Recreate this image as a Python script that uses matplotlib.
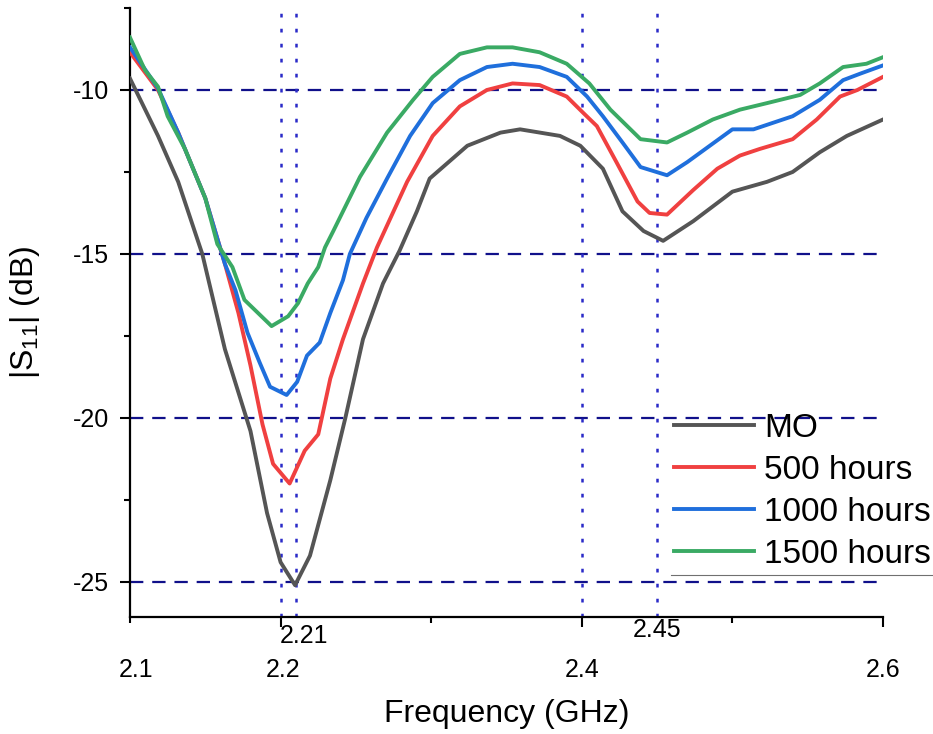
import matplotlib
matplotlib.use('Agg')
import matplotlib.pyplot as plt
from matplotlib.lines import Line2D

plt.rcParams['font.family'] = ['Liberation Sans', 'DejaVu Sans']
plt.rcParams['mathtext.default'] = 'regular'
plt.rcParams['axes.unicode_minus'] = False

# data
f_mo = [2.100, 2.1186, 2.132, 2.148, 2.163, 2.180, 2.191, 2.200, 2.2096, 2.2195,
        2.233, 2.243, 2.2547, 2.268, 2.279, 2.2905, 2.299, 2.324, 2.346, 2.359,
        2.3855, 2.399, 2.414, 2.427, 2.441, 2.454, 2.474, 2.500, 2.523, 2.540,
        2.558, 2.576, 2.600]
s_mo = [-9.65, -11.4, -12.8, -15.0, -17.9, -20.4, -22.9, -24.4, -25.1, -24.2,
        -21.9, -20.0, -17.6, -15.9, -14.9, -13.7, -12.7, -11.7, -11.3, -11.2,
        -11.4, -11.7, -12.4, -13.7, -14.3, -14.6, -14.0, -13.1, -12.8, -12.5,
        -11.9, -11.4, -10.9]

f_500 = [2.100, 2.1186, 2.132, 2.150, 2.163, 2.172, 2.180, 2.188, 2.195,
         2.206, 2.216, 2.225, 2.233, 2.2414, 2.2547, 2.264, 2.284, 2.301, 2.319,
         2.337, 2.354, 2.372, 2.390, 2.401, 2.410, 2.423, 2.437, 2.445, 2.4566,
         2.474, 2.490, 2.505, 2.518, 2.540, 2.556, 2.5715, 2.583, 2.600]
s_500 = [-8.85, -10.0, -11.3, -13.3, -15.3, -16.8, -18.4, -20.2, -21.4,
         -22.0, -21.0, -20.5, -18.8, -17.6, -15.9, -14.8, -12.8, -11.4, -10.5,
         -10.0, -9.8, -9.85, -10.2, -10.7, -11.1, -12.2, -13.4, -13.75, -13.8,
         -13.05, -12.4, -12.0, -11.8, -11.5, -10.9, -10.2, -10.0, -9.6]

f_1000 = [2.100, 2.1186, 2.132, 2.150, 2.163, 2.170, 2.178, 2.186, 2.193, 2.204,
          2.211, 2.2175, 2.226, 2.233, 2.2414, 2.246, 2.257, 2.2707, 2.286, 2.301,
          2.319, 2.337, 2.354, 2.372, 2.390, 2.4035, 2.414, 2.427, 2.439, 2.4566,
          2.470, 2.485, 2.500, 2.514, 2.540, 2.558, 2.5735, 2.585, 2.600]
s_1000 = [-8.7, -9.95, -11.3, -13.3, -15.3, -16.1, -17.4, -18.3, -19.05, -19.3,
          -18.9, -18.1, -17.7, -16.8, -15.8, -15.0, -13.9, -12.7, -11.4, -10.4,
          -9.7, -9.3, -9.2, -9.3, -9.6, -10.2, -10.8, -11.6, -12.35, -12.6,
          -12.2, -11.7, -11.2, -11.2, -10.8, -10.3, -9.7, -9.5, -9.25]

f_1500 = [2.100, 2.110, 2.1186, 2.125, 2.1365, 2.150, 2.158, 2.168, 2.176, 2.185,
          2.194, 2.205, 2.2116, 2.218, 2.225, 2.2295, 2.235, 2.2527, 2.2707, 2.288,
          2.301, 2.319, 2.337, 2.354, 2.372, 2.390, 2.405, 2.419, 2.439, 2.4566,
          2.470, 2.487, 2.505, 2.523, 2.545, 2.558, 2.5735, 2.589, 2.600]
s_1500 = [-8.4, -9.4, -9.9, -10.8, -11.8, -13.3, -14.7, -15.4, -16.4, -16.8,
          -17.2, -16.9, -16.5, -15.9, -15.4, -14.8, -14.3, -12.65, -11.3, -10.3,
          -9.6, -8.9, -8.7, -8.7, -8.85, -9.2, -9.8, -10.6, -11.5, -11.6,
          -11.3, -10.9, -10.6, -10.4, -10.15, -9.8, -9.3, -9.2, -9.0]

series = [(f_mo, s_mo, 'MO', '#555555'),
          (f_500, s_500, '500 hours', '#f04040'),
          (f_1000, s_1000, '1000 hours', '#1f6fdc'),
          (f_1500, s_1500, '1500 hours', '#3aaa64')]

hlines = [-10, -15, -20, -25]
vlines = [2.2, 2.21, 2.4, 2.45]
xlab_low = [(2.104, '2.1'), (2.2015, '2.2'), (2.4, '2.4'), (2.6, '2.6')]
xlab_high = [(2.2155, '2.21', -0.031), (2.45, '2.45', -0.021)]

fig = plt.figure(figsize=(9.33, 7.34), dpi=100)
ax = fig.add_axes([130/933, 1-617/734, 753/933, 609/734])

for y in hlines:
    ax.axhline(y, color='#10108a', lw=1.6, ls=(0, (6, 4)), zorder=1)
for x in vlines:
    ax.axvline(x, color='#2a2ac8', lw=1.8, ls=(0, (1.5, 4.5)), zorder=1)

for f, s, lab, c in series:
    ax.plot(f, s, color=c, lw=2.8, label=lab, zorder=3, solid_joinstyle='round')

ax.set_xlim(2.1, 2.6)
ax.set_ylim(-26.07, -7.5)
ax.set_yticks([-25, -20, -15, -10])
ax.set_yticks([-22.5, -17.5, -12.5, -7.5], minor=True)
ax.set_xticks([2.2, 2.4, 2.6])
ax.set_xticks([2.1, 2.3, 2.5], minor=True)
ax.set_xticklabels([])
ax.tick_params(which='major', length=7, width=1.5, direction='out', labelsize=18, pad=8)
ax.tick_params(which='minor', length=4, width=1.5, direction='out')
for sp in ['top', 'right']:
    ax.spines[sp].set_visible(False)
for sp in ['left', 'bottom']:
    ax.spines[sp].set_linewidth(1.6)

tr = ax.get_xaxis_transform()
for x, t in xlab_low:
    ax.text(x, -0.087, t, transform=tr, ha='center', va='center', fontsize=18)
for x, t, y in xlab_high:
    ax.text(x, y, t, transform=tr, ha='center', va='center', fontsize=18)

ax.set_xlabel('Frequency (GHz)', fontsize=23)
ax.xaxis.set_label_coords(0.5, -0.135)
ax.set_ylabel('|S$_{11}$| (dB)', fontsize=23)
ax.yaxis.set_label_coords(-0.117, 0.5)

ax.legend(loc='upper left', bbox_to_anchor=(674/933, 1-413/734),
          bbox_transform=fig.transFigure, frameon=False, fontsize=24,
          borderpad=0, borderaxespad=0, handlelength=2.4, handletextpad=0.3,
          labelspacing=0.33)
fig.add_artist(Line2D([671/933, 1.0], [1-575/734, 1-575/734],
                      transform=fig.transFigure, color='#707070', lw=0.8))

plt.savefig('out.png', dpi=100)
